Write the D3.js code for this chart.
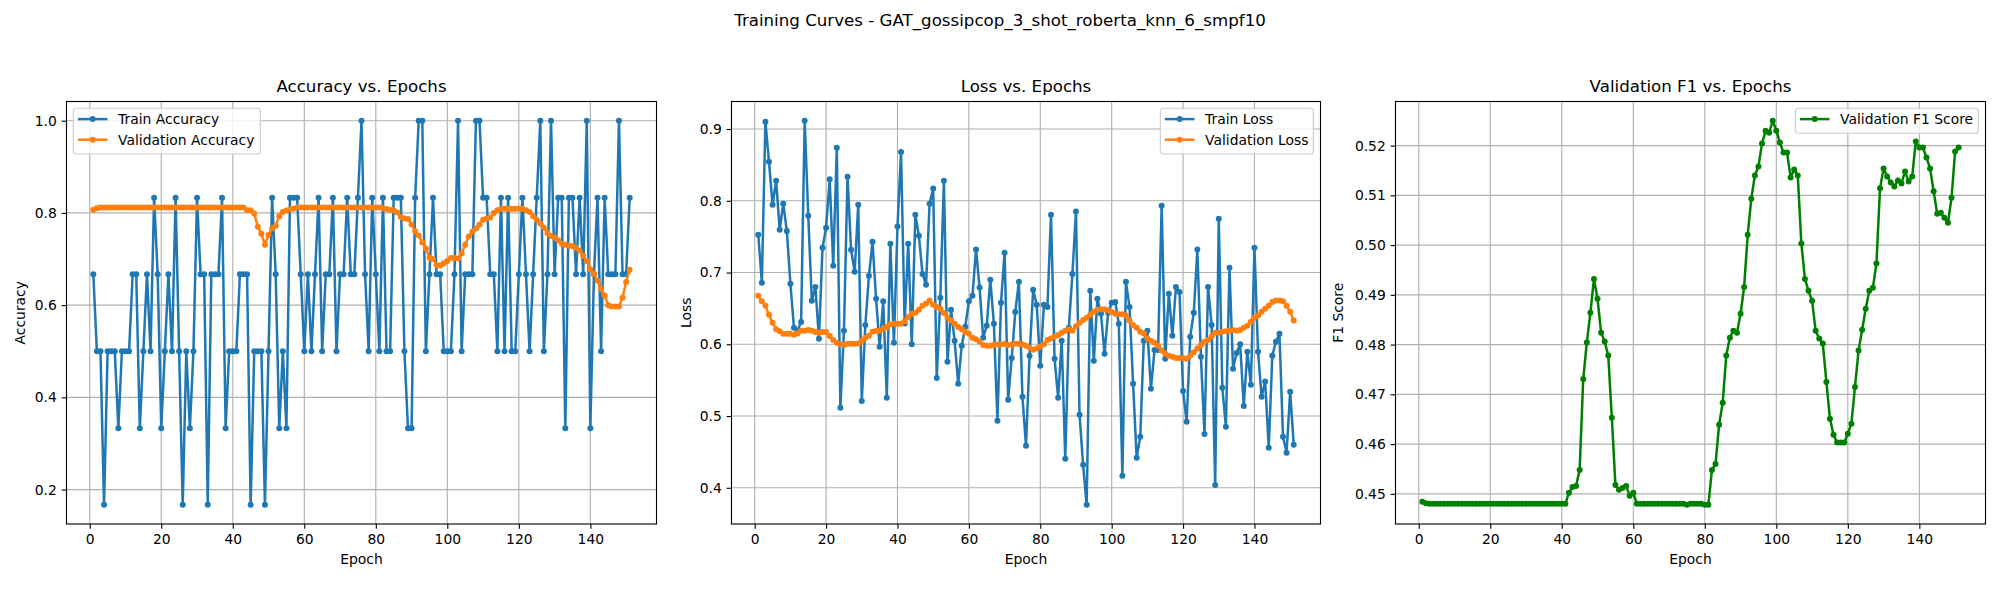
<!DOCTYPE html>
<html>
<head>
<meta charset="utf-8">
<title>Training Curves</title>
<script src="https://cdn.jsdelivr.net/npm/d3@7"></script>
<style>
  html, body { margin: 0; padding: 0; background: #fff; }
  svg { display: block; }
  text { font-family: "DejaVu Sans", sans-serif; fill: #000; }
</style>
</head>
<body>
<div id="chart"></div>
<script>
  const epochs = [1,2,3,4,5,6,7,8,9,10,11,12,13,14,15,16,17,18,19,20,21,22,23,24,25,26,27,28,29,30,
    31,32,33,34,35,36,37,38,39,40,41,42,43,44,45,46,47,48,49,50,51,52,53,54,55,56,57,58,59,60,
    61,62,63,64,65,66,67,68,69,70,71,72,73,74,75,76,77,78,79,80,81,82,83,84,85,86,87,88,89,90,
    91,92,93,94,95,96,97,98,99,100,101,102,103,104,105,106,107,108,109,110,111,112,113,114,115,116,117,118,119,120,
    121,122,123,124,125,126,127,128,129,130,131,132,133,134,135,136,137,138,139,140,141,142,143,144,145,146,147,148,149,150,151];

  const trainAcc = [.667,.5,.5,.167,.5,.5,.5,.333,.5,.5,.5,.667,.667,.333,.5,.667,.5,.833,.667,.333,
    .5,.667,.5,.833,.5,.167,.5,.333,.5,.833,.667,.667,.167,.667,.667,.667,.833,.333,.5,.5,
    .5,.667,.667,.667,.167,.5,.5,.5,.167,.5,.833,.667,.333,.5,.333,.833,.833,.833,.667,.5,
    .667,.5,.667,.833,.5,.667,.667,.833,.5,.667,.667,.833,.667,.667,.833,1,.667,.5,.833,.667,
    .5,.833,.5,.5,.833,.833,.833,.5,.333,.333,.833,1,1,.5,.667,.833,.667,.667,.5,.5,
    .5,.667,1,.5,.667,.667,.667,1,1,.833,.833,.667,.667,.5,.833,.5,.833,.5,.5,.667,
    .833,.667,.5,.667,.833,1,.5,.667,1,.667,.833,.833,.333,.833,.833,.667,.833,.667,1,.333,
    .667,.833,.5,.833,.667,.667,.667,1,.667,.667,.833];

  const valAcc = [.807,.81,.8115,.8115,.8115,.8115,.8115,.8115,.8115,.8115,.8115,.8115,.8115,.8115,.8115,.8115,.8115,.8115,.8115,.8115,
    .8115,.8115,.8115,.8115,.8115,.8115,.8115,.8115,.8115,.8115,.8115,.8115,.8115,.8115,.8115,.8115,.8115,.8115,.8115,.8115,
    .8115,.8115,.8115,.806,.806,.799,.77,.755,.731,.752,.766,.772,.793,.802,.805,.808,.809,.8115,.8115,.8115,
    .8115,.8115,.8115,.8115,.8115,.8115,.8115,.8115,.8115,.8115,.8115,.8115,.8115,.8115,.8115,.8115,.8115,.8115,.8115,.8115,
    .8115,.81,.8086,.807,.806,.801,.791,.788,.787,.775,.76,.751,.736,.723,.703,.70,.687,.686,.691,.696,
    .702,.702,.701,.712,.731,.749,.759,.766,.775,.785,.788,.79,.80,.806,.809,.809,.809,.809,.809,.809,
    .809,.806,.802,.793,.785,.777,.768,.756,.75,.746,.741,.733,.731,.729,.728,.724,.718,.707,.695,.678,
    .668,.653,.635,.621,.60,.597,.597,.597,.616,.65,.677];

  const trainLoss = [.7527,.6858,.910,.8545,.7945,.828,.7597,.796,.758,.6844,.623,.619,.631,.9116,.779,.6607,.680,.6077,.7346,.7625,
    .83,.7095,.874,.5115,.619,.8335,.7318,.701,.7945,.521,.627,.6955,.743,.6635,.5966,.66,.5255,.74,.602,.764,
    .868,.629,.74,.60,.7806,.7513,.698,.683,.796,.817,.553,.665,.828,.5757,.648,.605,.545,.598,.6244,.66,
    .6677,.732,.679,.609,.626,.69,.6286,.4934,.658,.7276,.5227,.581,.645,.687,.5269,.4586,.584,.676,.655,.570,
    .655,.652,.7806,.58,.5255,.605,.4404,.623,.698,.785,.5018,.432,.3763,.6746,.577,.6635,.6426,.5868,.644,.658,
    .659,.6286,.4167,.687,.652,.545,.4418,.471,.605,.619,.538,.592,.592,.793,.58,.6705,.612,.680,.673,.535,
    .492,.6105,.644,.732,.5826,.475,.680,.627,.404,.775,.5394,.485,.7067,.566,.588,.60,.514,.5896,.5436,.7346,
    .5896,.5269,.548,.4558,.584,.6035,.6147,.471,.4488,.534,.46];

  const valLoss = [.6677,.66,.6537,.641,.63,.621,.618,.6147,.6147,.6147,.6133,.615,.619,.619,.62,.619,.617,.616,.617,.617,
    .6114,.606,.602,.60,.599,.6007,.6007,.6007,.601,.6045,.609,.612,.6175,.619,.619,.6217,.6244,.6277,.6286,.6286,
    .6286,.632,.638,.6426,.644,.648,.6537,.657,.661,.655,.652,.6495,.6435,.637,.633,.6286,.624,.621,.617,.6147,
    .609,.607,.604,.599,.598,.598,.599,.5998,.5998,.6007,.599,.5998,.6007,.6007,.60,.598,.595,.5924,.594,.597,
    .60,.606,.608,.6105,.613,.616,.619,.621,.619,.625,.63,.634,.637,.641,.6454,.648,.649,.649,.647,.645,
    .6426,.642,.642,.64,.633,.627,.623,.6175,.615,.608,.605,.602,.598,.5915,.587,.584,.5826,.581,.581,.581,
    .58,.584,.589,.594,.599,.6035,.606,.611,.616,.616,.6175,.618,.619,.62,.619,.62,.623,.626,.6314,.637,
    .64,.6454,.6495,.6537,.659,.661,.661,.66,.6537,.6454,.633];

  const valF1 = [.4484,.4481,.448,.448,.448,.448,.448,.448,.448,.448,.448,.448,.448,.448,.448,.448,.448,.448,.448,.448,
    .448,.448,.448,.448,.448,.448,.448,.448,.448,.448,.448,.448,.448,.448,.448,.448,.448,.448,.448,.448,
    .448,.4502,.4514,.4516,.4548,.4731,.4804,.4864,.4932,.4892,.4824,.4806,.4778,.4653,.4518,.4508,.4512,.4516,.4496,.4502,
    .448,.448,.448,.448,.448,.448,.448,.448,.448,.448,.448,.448,.448,.448,.4478,.448,.448,.448,.448,.4478,
    .4478,.4548,.456,.4639,.4683,.4778,.4814,.4828,.4824,.4862,.4916,.5021,.5093,.514,.5158,.5204,.523,.5226,.525,.523,
    .5206,.5186,.5186,.5136,.5152,.514,.5003,.4932,.4908,.4888,.4828,.4812,.4802,.4725,.4651,.4619,.4603,.4603,.4603,.4621,
    .4641,.4715,.4788,.483,.4872,.4908,.4914,.4963,.5114,.5154,.5138,.5126,.5118,.513,.5124,.5148,.5128,.5138,.5208,.5196,
    .5196,.5176,.5154,.5108,.5063,.5065,.5055,.5045,.5095,.5188,.5196];

  const xTicks = [0, 20, 40, 60, 80, 100, 120, 140];
  const accTicks = [0.2, 0.4, 0.6, 0.8, 1.0];
  const lossTicks = [0.4, 0.5, 0.6, 0.7, 0.8, 0.9];
  const f1Ticks = [0.45, 0.46, 0.47, 0.48, 0.49, 0.50, 0.51, 0.52];

  const blue = "#1f77b4", orange = "#ff7f0e", green = "#008000";

  const svgWidth = 2000;
  const svgHeight = 600;
  const plotTop = 101.5;
  const plotBottom = 524;
  const lineWidth = 2.5;
  const markerRadius = 3;

  const svg = d3.select("#chart")
    .append("svg")
    .attr("width", svgWidth)
    .attr("height", svgHeight);

  svg.append("text")
    .attr("x", 1000)
    .attr("y", 26)
    .attr("text-anchor", "middle")
    .style("font-size", "16.67px")
    .text("Training Curves - GAT_gossipcop_3_shot_roberta_knn_6_smpf10");

  // matplotlib style 5% margin around the data
  function paddedDomain(values) {
    const [lo, hi] = d3.extent(values);
    const pad = (hi - lo) * 0.05;
    return [lo - pad, hi + pad];
  }

  function drawPanel(opts) {
    const left = opts.left, right = opts.right;
    const allValues = opts.series.flatMap(s => s.values);

    const xScale = d3.scaleLinear().domain(paddedDomain(epochs)).range([left, right]);
    const yScale = d3.scaleLinear().domain(paddedDomain(allValues)).range([plotBottom, plotTop]);

    const g = svg.append("g");

    // Grid
    g.append("g").selectAll("line").data(xTicks).enter().append("line")
      .attr("x1", d => xScale(d)).attr("x2", d => xScale(d))
      .attr("y1", plotTop).attr("y2", plotBottom)
      .attr("stroke", "#b0b0b0").attr("stroke-width", 1.11);
    g.append("g").selectAll("line").data(opts.yTicks).enter().append("line")
      .attr("x1", left).attr("x2", right)
      .attr("y1", d => yScale(d)).attr("y2", d => yScale(d))
      .attr("stroke", "#b0b0b0").attr("stroke-width", 1.11);

    // Lines and markers
    const line = d3.line().x((d, i) => xScale(epochs[i])).y(d => yScale(d));
    opts.series.forEach(s => {
      g.append("path")
        .attr("d", line(s.values))
        .attr("fill", "none")
        .attr("stroke", s.color)
        .attr("stroke-width", lineWidth)
        .attr("stroke-linejoin", "round");
      g.append("g").selectAll("circle").data(s.values).enter().append("circle")
        .attr("cx", (d, i) => xScale(epochs[i]))
        .attr("cy", d => yScale(d))
        .attr("r", markerRadius)
        .attr("fill", s.color);
    });

    // Frame
    g.append("rect")
      .attr("x", left).attr("y", plotTop)
      .attr("width", right - left).attr("height", plotBottom - plotTop)
      .attr("fill", "none").attr("stroke", "#000").attr("stroke-width", 1.11);

    // Axes
    const xAxis = g.append("g")
      .attr("transform", `translate(0, ${plotBottom})`)
      .call(d3.axisBottom(xScale).tickValues(xTicks).tickSize(4.86).tickPadding(4.86).tickFormat(d3.format("d")));
    const yAxis = g.append("g")
      .attr("transform", `translate(${left}, 0)`)
      .call(d3.axisLeft(yScale).tickValues(opts.yTicks).tickSize(4.86).tickPadding(4.86).tickFormat(d3.format(opts.yFormat)));
    [xAxis, yAxis].forEach(a => {
      a.select(".domain").remove();
      a.selectAll("line").attr("stroke", "#000").attr("stroke-width", 1.11);
      a.selectAll("text").style("font-size", "13.89px").style("font-family", '"DejaVu Sans", sans-serif').attr("fill", "#000");
    });

    // Title and labels
    g.append("text")
      .attr("x", (left + right) / 2).attr("y", 92)
      .attr("text-anchor", "middle")
      .style("font-size", "16.67px")
      .text(opts.title);
    g.append("text")
      .attr("x", (left + right) / 2).attr("y", 564)
      .attr("text-anchor", "middle")
      .style("font-size", "13.89px")
      .text("Epoch");
    g.append("text")
      .attr("transform", `translate(${opts.yLabelX}, ${(plotTop + plotBottom) / 2}) rotate(-90)`)
      .attr("text-anchor", "middle")
      .style("font-size", "13.89px")
      .text(opts.yLabel);

    // Legend
    const boxH = opts.series.length === 2 ? 45.7 : 25;
    const legend = g.append("g").attr("transform", `translate(${opts.legendX}, 108.3)`);
    legend.append("rect")
      .attr("width", opts.legendW).attr("height", boxH)
      .attr("rx", 2.8).attr("ry", 2.8)
      .attr("fill", "#fff").attr("fill-opacity", 0.8)
      .attr("stroke", "#ccc").attr("stroke-width", 1.11);
    opts.series.forEach((s, i) => {
      const y = 10.8 + i * 20.6;
      legend.append("line")
        .attr("x1", 4.6).attr("x2", 34.2).attr("y1", y).attr("y2", y)
        .attr("stroke", s.color).attr("stroke-width", lineWidth);
      legend.append("circle")
        .attr("cx", 19.4).attr("cy", y).attr("r", markerRadius).attr("fill", s.color);
      legend.append("text")
        .attr("x", 44.8).attr("y", y + 5)
        .style("font-size", "13.89px")
        .text(s.name);
    });
  }

  drawPanel({
    left: 66.5, right: 656.5, title: "Accuracy vs. Epochs", yLabel: "Accuracy", yLabelX: 25,
    yTicks: accTicks, yFormat: ".1f", legendX: 73.3, legendW: 187,
    series: [
      { name: "Train Accuracy", values: trainAcc, color: blue },
      { name: "Validation Accuracy", values: valAcc, color: orange }
    ]
  });

  drawPanel({
    left: 731.5, right: 1320.5, title: "Loss vs. Epochs", yLabel: "Loss", yLabelX: 691,
    yTicks: lossTicks, yFormat: ".1f", legendX: 1160.3, legendW: 153,
    series: [
      { name: "Train Loss", values: trainLoss, color: blue },
      { name: "Validation Loss", values: valLoss, color: orange }
    ]
  });

  drawPanel({
    left: 1395.5, right: 1985.5, title: "Validation F1 vs. Epochs", yLabel: "F1 Score", yLabelX: 1343,
    yTicks: f1Ticks, yFormat: ".2f", legendX: 1795.3, legendW: 183,
    series: [
      { name: "Validation F1 Score", values: valF1, color: green }
    ]
  });
</script>
</body>
</html>
